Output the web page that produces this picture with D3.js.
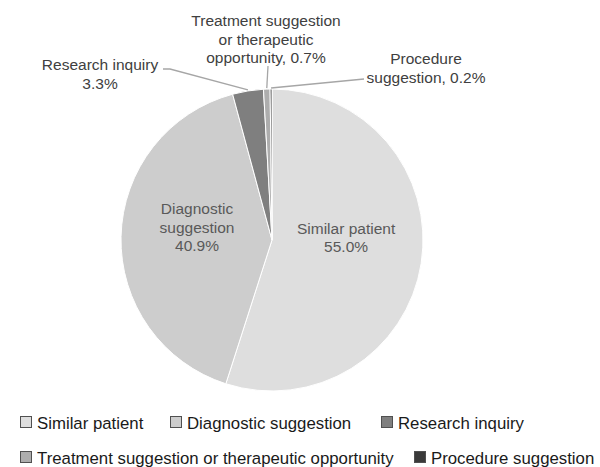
<!DOCTYPE html>
<html>
<head>
<meta charset="utf-8">
<script src="https://cdn.jsdelivr.net/npm/d3@7"></script>
<style>
  html, body { margin: 0; padding: 0; background: #fff; }
  svg { display: block; font-family: "Liberation Sans", Arial, sans-serif; }
</style>
</head>
<body>
<svg id="chart" width="600" height="467"></svg>
<script>
// ---- data ----
const categories = ["Similar patient", "Diagnostic suggestion", "Research inquiry",
  "Treatment suggestion or therapeutic opportunity", "Procedure suggestion"];
const values = [55.0, 40.9, 3.3, 0.7, 0.2];
const labelLines = [
  ["Similar patient", "55.0%"],
  ["Diagnostic", "suggestion", "40.9%"],
  ["Research inquiry", "3.3%"],
  ["Treatment suggestion", "or therapeutic", "opportunity, 0.7%"],
  ["Procedure", "suggestion, 0.2%"]
];
const colors = ["#dedede", "#cdcdcd", "#7f7f7f", "#adadad", "#3a3a3a"];
const legendRows = [[0, 1, 2], [3, 4]];

// ---- layout ----
const cx = 272, cy = 240, R = 151;
const lineH = 18.5;
const svg = d3.select("#chart");
const g = svg.append("g").attr("transform", `translate(${cx},${cy})`);

const pie = d3.pie().sort(null).value(d => d);
const arcs = pie(values);
const arc = d3.arc().innerRadius(0).outerRadius(R);
const edgeArc = d3.arc().innerRadius(R).outerRadius(R);
const midArc = d3.arc().innerRadius(75).outerRadius(75);
const color = d3.scaleOrdinal().domain(d3.range(categories.length)).range(colors);

g.selectAll("path.slice").data(arcs).join("path")
  .attr("class", "slice")
  .attr("d", arc)
  .attr("fill", (d, i) => color(i))
  .attr("stroke", "#fff")
  .attr("stroke-width", 1);

// label placement: inside (centroid based) or outside (anchor in absolute page coords)
const labelCfg = [
  { inside: true, dy: -14 },
  { inside: true, dy: -11 },
  { inside: false, x: 100, y: 74, leader: [[163, 69], [170, 69]] },
  { inside: false, x: 266, y: 39, leader: [[268, 66]] },
  { inside: false, x: 426, y: 68, leader: [[364, 79]] }
];

const labels = svg.append("g");
arcs.forEach((a, i) => {
  const cfg = labelCfg[i];
  const lines = labelLines[i];
  let x, yc, fill;
  if (cfg.inside) {
    const c = midArc.centroid(a);
    x = cx + c[0];
    yc = cy + c[1] + cfg.dy;
    fill = "#595959";
  } else {
    x = cfg.x; yc = cfg.y; fill = "#404040";
    const e = edgeArc.centroid(a);
    const pts = cfg.leader.concat([[cx + e[0], cy + e[1] - 1]]);
    labels.append("path")
      .attr("d", d3.line()(pts))
      .attr("fill", "none")
      .attr("stroke", "#a6a6a6")
      .attr("stroke-width", 1.3);
  }
  const n = lines.length;
  const t = labels.append("text")
    .attr("text-anchor", "middle")
    .attr("font-size", 15.5)
    .attr("fill", fill);
  lines.forEach((s, k) => {
    t.append("tspan")
      .attr("x", x)
      .attr("y", yc + (k - (n - 1) / 2) * lineH + 5.5)
      .text(s);
  });
});

// ---- legend ----
const legendX = [[20, 170, 381], [20, 414]];
const legendBase = [429, 464];
const leg = svg.append("g");
legendRows.forEach((row, r) => {
  row.forEach((idx, j) => {
    const x = legendX[r][j];
    const base = legendBase[r];
    leg.append("rect")
      .attr("x", x + 0.5).attr("y", base - 12.5)
      .attr("width", 11).attr("height", 11)
      .attr("fill", color(idx))
      .attr("stroke", "#505050")
      .attr("stroke-width", 1);
    leg.append("text")
      .attr("x", x + 17).attr("y", base)
      .attr("font-size", 16.8)
      .attr("fill", "#1a1a1a")
      .text(categories[idx]);
  });
});
</script>
</body>
</html>
